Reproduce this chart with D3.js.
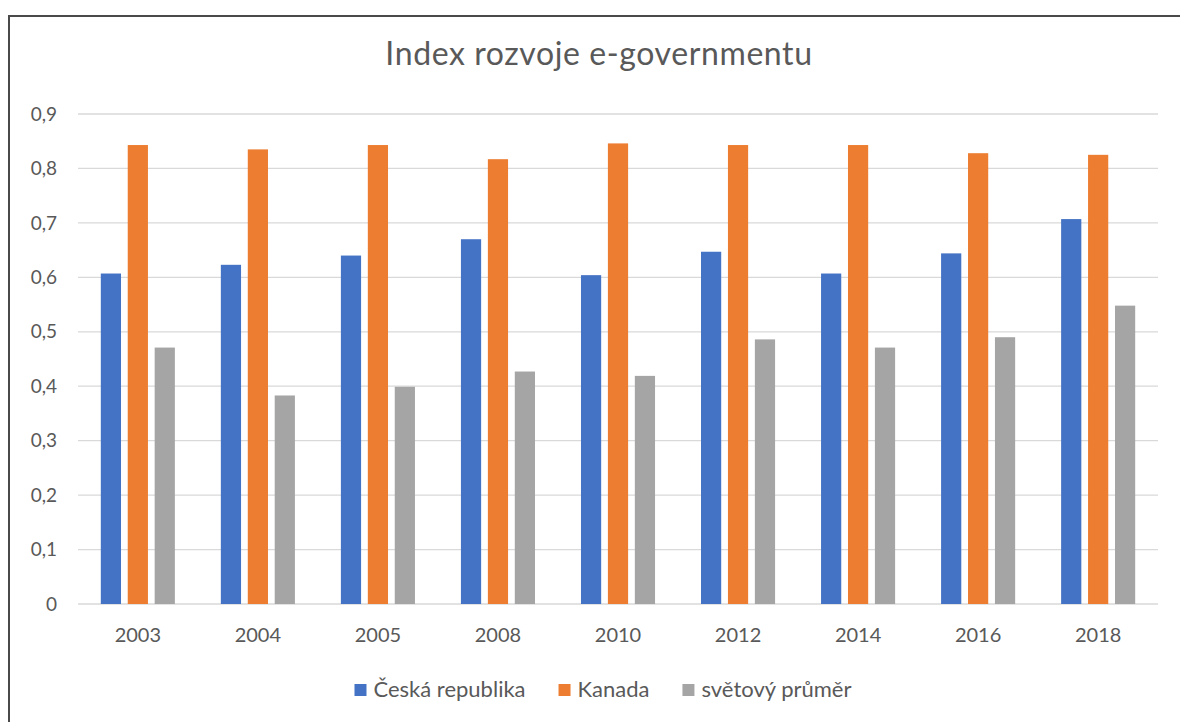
<!DOCTYPE html>
<html>
<head>
<meta charset="utf-8">
<script src="https://cdn.jsdelivr.net/npm/d3@7"></script>
<style>
  body { margin: 0; background: #fff; }
  text { font-family: Lato, "Open Sans", sans-serif; fill: #595959; }
</style>
</head>
<body>
<div id="chart"></div>
<script>
const years = ["2003", "2004", "2005", "2008", "2010", "2012", "2014", "2016", "2018"]
const seriesNames = ["Česká republika", "Kanada", "světový průměr"]
const czech = [0.607, 0.623, 0.640, 0.670, 0.604, 0.647, 0.607, 0.644, 0.707]
const canada = [0.843, 0.835, 0.843, 0.817, 0.846, 0.843, 0.843, 0.828, 0.825]
const world = [0.471, 0.383, 0.399, 0.427, 0.419, 0.486, 0.471, 0.490, 0.548]
const yTicks = [0, 0.1, 0.2, 0.3, 0.4, 0.5, 0.6, 0.7, 0.8, 0.9]
const colors = ["#4472C4", "#ED7D31", "#A5A5A5"]

const W = 1180, H = 722
const MARGIN = {TOP: 114, LEFT: 78, RIGHT: 22, BOTTOM: 118}
const WIDTH = W - MARGIN.LEFT - MARGIN.RIGHT
const HEIGHT = H - MARGIN.TOP - MARGIN.BOTTOM

const values = [czech, canada, world]
const rows = years.map((y, i) => ({year: y, vals: values.map(s => s[i])}))

const svg = d3.select("#chart").append("svg")
    .attr("width", W)
    .attr("height", H)

// outer frame of the chart area
svg.append("rect")
    .attr("x", 9).attr("y", 16)
    .attr("width", W + 20).attr("height", H + 20)
    .attr("fill", "none")
    .attr("stroke", "#4a4a4a")
    .attr("stroke-width", 2)

svg.append("text")
    .attr("x", 599)
    .attr("y", 65)
    .attr("text-anchor", "middle")
    .style("font-size", "32px")
    .style("letter-spacing", "0.6px")
    .text("Index rozvoje e-governmentu")

const g = svg.append("g")
    .attr("transform", `translate(${MARGIN.LEFT}, ${MARGIN.TOP})`)

const y = d3.scaleLinear().domain([0, 0.9]).range([HEIGHT, 0])

const x0 = d3.scaleBand()
    .domain(years)
    .range([0, WIDTH])
    .paddingInner(0.383)
    .paddingOuter(0.19)

const x1 = d3.scaleBand()
    .domain(d3.range(3))
    .range([0, x0.bandwidth()])
    .paddingInner(0.25)

// gridlines
g.selectAll("line.grid")
    .data(yTicks)
    .enter().append("line")
    .attr("class", "grid")
    .attr("x1", 0).attr("x2", WIDTH)
    .attr("y1", d => y(d)).attr("y2", d => y(d))
    .attr("stroke", "#d9d9d9")
    .attr("stroke-width", 1.3)

// y labels, czech decimal comma
const fmt = d => d === 0 ? "0" : d3.format(".1f")(d).replace(".", ",")
g.selectAll("text.ytick")
    .data(yTicks)
    .enter().append("text")
    .attr("class", "ytick")
    .attr("x", -21)
    .attr("y", d => y(d))
    .attr("dy", "0.35em")
    .attr("text-anchor", "end")
    .style("font-size", "19px")
    .text(fmt)

// bars
const groups = g.selectAll("g.year")
    .data(rows)
    .enter().append("g")
    .attr("transform", d => `translate(${x0(d.year)}, 0)`)

groups.selectAll("rect")
    .data(d => d.vals)
    .enter().append("rect")
    .attr("x", (d, i) => x1(i))
    .attr("width", x1.bandwidth())
    .attr("y", d => y(d))
    .attr("height", d => HEIGHT - y(d))
    .attr("fill", (d, i) => colors[i])

// x labels
g.selectAll("text.xtick")
    .data(years)
    .enter().append("text")
    .attr("class", "xtick")
    .attr("x", d => x0(d) + x0.bandwidth() / 2)
    .attr("y", HEIGHT + 38)
    .attr("text-anchor", "middle")
    .style("font-size", "20px")
    .text(d => d)

// legend, laid out from measured text widths and centred
const legend = svg.append("g")
const items = legend.selectAll("g.item")
    .data(seriesNames)
    .enter().append("g")
    .attr("class", "item")

items.append("rect")
    .attr("x", 0).attr("y", -13)
    .attr("width", 12).attr("height", 12)
    .attr("fill", (d, i) => colors[i])

items.append("text")
    .attr("x", 19)
    .attr("y", 0)
    .style("font-size", "22px")
    .text(d => d)

let cursor = 0
items.each(function () {
    const w = d3.select(this).select("text").node().getComputedTextLength()
    d3.select(this).attr("transform", `translate(${cursor}, 0)`)
    cursor += 19 + w + 33
})
const legendWidth = cursor - 33
legend.attr("transform", `translate(${603 - legendWidth / 2}, 697)`)
</script>
</body>
</html>
